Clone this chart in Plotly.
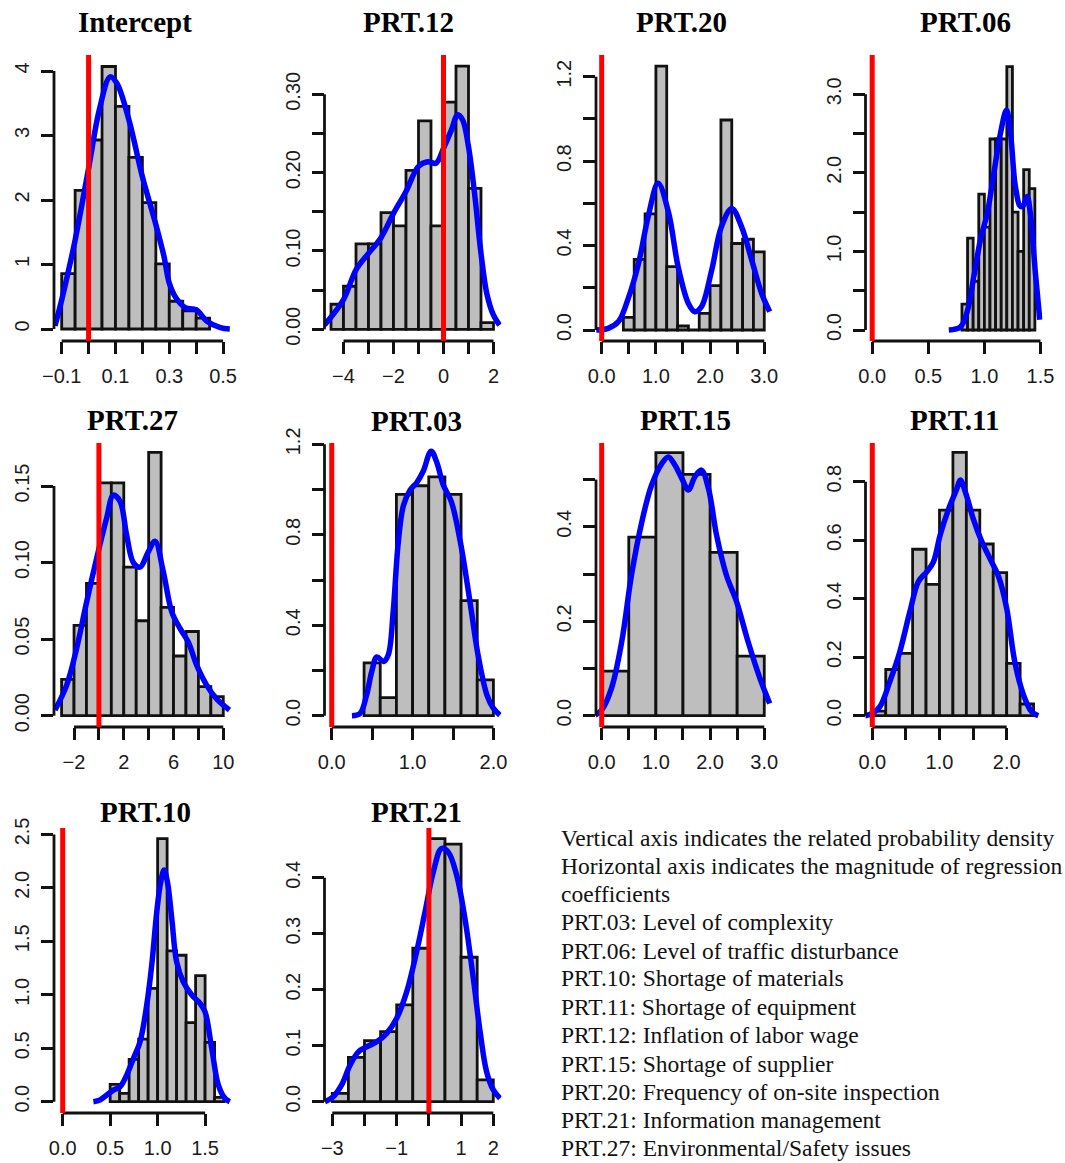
import plotly.graph_objects as go

W, H = 1065, 1163

# ---------------- data ----------------
TITLES = ["Intercept", "PRT.12", "PRT.20", "PRT.06", "PRT.27",
          "PRT.03", "PRT.15", "PRT.11", "PRT.10", "PRT.21"]

INTERCEPT_EDGES = [-0.10, -0.05, 0.00, 0.05, 0.10, 0.15, 0.20, 0.25, 0.30, 0.35, 0.40, 0.45]
INTERCEPT_DENS = [0.86, 2.15, 2.93, 4.07, 3.45, 2.66, 1.96, 1.01, 0.43, 0.28, 0.17]
INTERCEPT_KDE_X = [-0.125, -0.1, -0.05, 0.0, 0.04, 0.08, 0.105, 0.15, 0.2, 0.25, 0.28, 0.3, 0.325, 0.36, 0.4, 0.44, 0.49, 0.525]
INTERCEPT_KDE_Y = [0.05, 0.45, 1.38, 2.49, 3.4, 3.91, 3.81, 3.24, 2.36, 1.62, 1.13, 0.71, 0.48, 0.33, 0.30, 0.12, 0.02, 0.0]

PRT12_EDGES = [-4.5, -4.0, -3.5, -3.0, -2.5, -2.0, -1.5, -1.0, -0.5, 0.0, 0.5, 1.0, 1.5, 2.0]
PRT12_DENS = [0.032, 0.055, 0.109, 0.109, 0.149, 0.132, 0.203, 0.266, 0.132, 0.29, 0.336, 0.18, 0.0085]
PRT12_KDE_X = [-4.76, -4.0, -3.5, -3.0, -2.5, -2.0, -1.5, -1.0, -0.63, -0.3, 0.0, 0.31, 0.57, 0.77, 1.0, 1.24, 1.5, 1.73, 2.0, 2.24]
PRT12_KDE_Y = [0.0055, 0.038, 0.076, 0.097, 0.117, 0.148, 0.176, 0.208, 0.214, 0.212, 0.231, 0.254, 0.274, 0.267, 0.233, 0.174, 0.097, 0.046, 0.018, 0.0055]

PRT20_EDGES = [0.4, 0.6, 0.8, 1.0, 1.2, 1.4, 1.6, 1.8, 2.0, 2.2, 2.4, 2.6, 2.8, 3.0]
PRT20_DENS = [0.06, 0.335, 0.55, 1.25, 0.30, 0.019, 0.0, 0.079, 0.21, 0.995, 0.41, 0.43, 0.37]
PRT20_KDE_X = [-0.1, 0.12, 0.31, 0.49, 0.68, 0.86, 1.04, 1.23, 1.41, 1.6, 1.72, 1.84, 2.03, 2.21, 2.4, 2.58, 2.77, 2.95, 3.1]
PRT20_KDE_Y = [0.0, 0.008, 0.04, 0.15, 0.316, 0.54, 0.695, 0.56, 0.30, 0.126, 0.087, 0.11, 0.284, 0.49, 0.576, 0.49, 0.33, 0.174, 0.087]

PRT06_EDGES = [0.80, 0.85, 0.90, 0.95, 1.00, 1.05, 1.10, 1.15, 1.20, 1.25, 1.30, 1.35, 1.40, 1.45]
PRT06_DENS = [0.33, 1.17, 0.62, 1.73, 1.31, 2.43, 2.43, 2.43, 3.35, 1.5, 1.0, 2.04, 1.80]
PRT06_KDE_X = [0.683, 0.787, 0.846, 0.906, 0.965, 1.025, 1.084, 1.143, 1.197, 1.233, 1.277, 1.322, 1.35, 1.381, 1.41, 1.455, 1.494]
PRT06_KDE_Y = [0.0, 0.04, 0.23, 0.68, 1.15, 1.48, 1.99, 2.5, 2.80, 2.5, 1.82, 1.57, 1.59, 1.70, 1.48, 0.72, 0.13]

PRT27_EDGES = [-3, -2, -1, 0, 1, 2, 3, 4, 5, 6, 7, 8, 9, 10]
PRT27_DENS = [0.0237, 0.059, 0.0864, 0.152, 0.152, 0.097, 0.062, 0.172, 0.0708, 0.039, 0.055, 0.019, 0.0124]
PRT27_KDE_X = [-3.53, -2.59, -1.79, -0.98, 0.0, 0.62, 1.16, 1.7, 2.23, 2.77, 3.3, 3.97, 4.51, 5.18, 5.85, 6.52, 7.19, 7.86, 8.66, 9.46, 10.5]
PRT27_KDE_Y = [0.0037, 0.02, 0.044, 0.0745, 0.109, 0.129, 0.144, 0.14, 0.118, 0.10, 0.097, 0.107, 0.114, 0.094, 0.068, 0.057, 0.048, 0.033, 0.02, 0.011, 0.0037]

PRT03_EDGES = [0.4, 0.6, 0.8, 1.0, 1.2, 1.4, 1.6, 1.8, 2.0]
PRT03_DENS = [0.234, 0.08, 0.979, 1.017, 1.056, 0.979, 0.509, 0.158]
PRT03_KDE_X = [0.25, 0.35, 0.43, 0.495, 0.557, 0.64, 0.70, 0.76, 0.82, 0.887, 0.97, 1.05, 1.13, 1.23, 1.30, 1.38, 1.48, 1.59, 1.71, 1.81, 1.92, 2.0, 2.08]
PRT03_KDE_Y = [0.0, 0.01, 0.09, 0.195, 0.26, 0.24, 0.27, 0.46, 0.755, 0.93, 0.998, 1.03, 1.08, 1.17, 1.12, 1.02, 0.946, 0.77, 0.504, 0.268, 0.091, 0.032, 0.003]

PRT15_EDGES = [0.0, 0.5, 1.0, 1.5, 2.0, 2.5, 3.0]
PRT15_DENS = [0.0946, 0.378, 0.557, 0.511, 0.346, 0.126]
PRT15_KDE_X = [-0.12, 0.0, 0.18, 0.37, 0.55, 0.74, 0.92, 1.11, 1.23, 1.35, 1.48, 1.6, 1.72, 1.84, 1.97, 2.12, 2.3, 2.49, 2.7, 2.92, 3.1]
PRT15_KDE_Y = [0.0014, 0.012, 0.058, 0.157, 0.298, 0.41, 0.488, 0.534, 0.548, 0.531, 0.502, 0.478, 0.506, 0.52, 0.481, 0.382, 0.298, 0.241, 0.157, 0.079, 0.026]

PRT11_EDGES = [0.0, 0.2, 0.4, 0.6, 0.8, 1.0, 1.2, 1.4, 1.6, 1.8, 2.0, 2.2, 2.4]
PRT11_DENS = [0.016, 0.158, 0.213, 0.569, 0.449, 0.703, 0.90, 0.703, 0.587, 0.489, 0.179, 0.04]
PRT11_KDE_X = [-0.11, 0.0, 0.114, 0.26, 0.41, 0.56, 0.685, 0.81, 0.91, 1.01, 1.13, 1.26, 1.31, 1.40, 1.5, 1.63, 1.75, 1.88, 2.0, 2.12, 2.25, 2.37, 2.47]
PRT11_KDE_Y = [0.0, 0.008, 0.031, 0.116, 0.219, 0.356, 0.458, 0.492, 0.526, 0.618, 0.703, 0.777, 0.806, 0.754, 0.675, 0.595, 0.538, 0.475, 0.367, 0.185, 0.071, 0.014, 0.0]

PRT10_EDGES = [0.5, 0.6, 0.7, 0.8, 0.9, 1.0, 1.1, 1.2, 1.3, 1.4, 1.5, 1.6, 1.7]
PRT10_DENS = [0.162, 0.078, 0.396, 0.586, 1.06, 2.46, 1.41, 1.37, 0.74, 1.18, 0.555, 0.04]
PRT10_KDE_X = [0.323, 0.393, 0.464, 0.534, 0.604, 0.674, 0.745, 0.815, 0.885, 0.938, 0.991, 1.033, 1.068, 1.103, 1.149, 1.20, 1.27, 1.36, 1.447, 1.50, 1.57, 1.64, 1.71, 1.76]
PRT10_KDE_Y = [0.0, 0.016, 0.062, 0.109, 0.14, 0.249, 0.405, 0.561, 0.904, 1.278, 1.777, 2.057, 2.166, 2.057, 1.714, 1.309, 1.122, 0.998, 0.92, 0.84, 0.499, 0.156, 0.031, 0.0]

PRT21_EDGES = [-3.0, -2.5, -2.0, -1.5, -1.0, -0.5, 0.0, 0.5, 1.0, 1.5, 2.0]
PRT21_DENS = [0.015, 0.079, 0.109, 0.125, 0.173, 0.274, 0.47, 0.46, 0.258, 0.039]
PRT21_KDE_X = [-3.23, -2.97, -2.71, -2.45, -2.19, -1.93, -1.62, -1.31, -1.0, -0.69, -0.38, -0.12, 0.14, 0.39, 0.6, 0.86, 1.12, 1.38, 1.59, 1.79, 2.0, 2.21]
PRT21_KDE_Y = [0.0, 0.009, 0.03, 0.065, 0.089, 0.098, 0.107, 0.122, 0.149, 0.196, 0.268, 0.339, 0.411, 0.452, 0.446, 0.405, 0.327, 0.22, 0.125, 0.054, 0.021, 0.006]

REF_LINE_X = 0.0

# tick values / labels
X_TICKS = [
    [-0.1, 0.0, 0.1, 0.2, 0.3, 0.4, 0.5],
    [-4, -3, -2, -1, 0, 1, 2],
    [0.0, 0.5, 1.0, 1.5, 2.0, 2.5, 3.0],
    [0.0, 0.5, 1.0, 1.5],
    [-2, 0, 2, 4, 6, 8, 10],
    [0.0, 0.5, 1.0, 1.5, 2.0],
    [0.0, 0.5, 1.0, 1.5, 2.0, 2.5, 3.0],
    [0.0, 0.5, 1.0, 1.5, 2.0],
    [0.0, 0.5, 1.0, 1.5],
    [-3, -2, -1, 0, 1, 2],
]
X_LABELS = [
    ["\u22120.1", "", "0.1", "", "0.3", "", "0.5"],
    ["\u22124", "", "\u22122", "", "0", "", "2"],
    ["0.0", "", "1.0", "", "2.0", "", "3.0"],
    ["0.0", "0.5", "1.0", "1.5"],
    ["\u22122", "", "2", "", "6", "", "10"],
    ["0.0", "", "1.0", "", "2.0"],
    ["0.0", "", "1.0", "", "2.0", "", "3.0"],
    ["0.0", "", "1.0", "", "2.0"],
    ["0.0", "0.5", "1.0", "1.5"],
    ["\u22123", "", "\u22121", "", "1", "2"],
]
Y_TICKS = [
    [0, 1, 2, 3, 4],
    [0.0, 0.05, 0.10, 0.15, 0.20, 0.25, 0.30],
    [0.0, 0.2, 0.4, 0.6, 0.8, 1.0, 1.2],
    [0.0, 0.5, 1.0, 1.5, 2.0, 2.5, 3.0],
    [0.0, 0.05, 0.10, 0.15],
    [0.0, 0.2, 0.4, 0.6, 0.8, 1.0, 1.2],
    [0.0, 0.1, 0.2, 0.3, 0.4, 0.5],
    [0.0, 0.2, 0.4, 0.6, 0.8],
    [0.0, 0.5, 1.0, 1.5, 2.0, 2.5],
    [0.0, 0.1, 0.2, 0.3, 0.4],
]
Y_LABELS = [
    ["0", "1", "2", "3", "4"],
    ["0.00", "", "0.10", "", "0.20", "", "0.30"],
    ["0.0", "", "0.4", "", "0.8", "", "1.2"],
    ["0.0", "", "1.0", "", "2.0", "", "3.0"],
    ["0.00", "0.05", "0.10", "0.15"],
    ["0.0", "", "0.4", "", "0.8", "", "1.2"],
    ["0.0", "", "0.2", "", "0.4", ""],
    ["0.0", "0.2", "0.4", "0.6", "0.8"],
    ["0.0", "0.5", "1.0", "1.5", "2.0", "2.5"],
    ["0.0", "0.1", "0.2", "0.3", "0.4"],
]

NOTE_LINES = [
    "Vertical axis indicates the related probability density",
    "Horizontal axis indicates the magnitude of regression",
    "coefficients",
    "PRT.03: Level of complexity",
    "PRT.06: Level of traffic disturbance",
    "PRT.10: Shortage of materials",
    "PRT.11: Shortage of equipment",
    "PRT.12: Inflation of labor wage",
    "PRT.15: Shortage of supplier",
    "PRT.20: Frequency of on-site inspection",
    "PRT.21: Information management",
    "PRT.27: Environmental/Safety issues",
]

PANELS_DATA = [
    (INTERCEPT_EDGES, INTERCEPT_DENS, INTERCEPT_KDE_X, INTERCEPT_KDE_Y),
    (PRT12_EDGES, PRT12_DENS, PRT12_KDE_X, PRT12_KDE_Y),
    (PRT20_EDGES, PRT20_DENS, PRT20_KDE_X, PRT20_KDE_Y),
    (PRT06_EDGES, PRT06_DENS, PRT06_KDE_X, PRT06_KDE_Y),
    (PRT27_EDGES, PRT27_DENS, PRT27_KDE_X, PRT27_KDE_Y),
    (PRT03_EDGES, PRT03_DENS, PRT03_KDE_X, PRT03_KDE_Y),
    (PRT15_EDGES, PRT15_DENS, PRT15_KDE_X, PRT15_KDE_Y),
    (PRT11_EDGES, PRT11_DENS, PRT11_KDE_X, PRT11_KDE_Y),
    (PRT10_EDGES, PRT10_DENS, PRT10_KDE_X, PRT10_KDE_Y),
    (PRT21_EDGES, PRT21_DENS, PRT21_KDE_X, PRT21_KDE_Y),
]

# ---------------- layout (pixels / ranges) ----------------
COL_LEFT = [54, 324.5, 596, 865.5]
ROW_TB = [(55, 341), (443, 727), (828, 1113)]
PLOT_W = 177
GRID_POS = [(0, 0), (0, 1), (0, 2), (0, 3), (1, 0), (1, 1), (1, 2), (1, 3), (2, 0), (2, 1)]
X_RANGES = [
    [-0.1286, 0.5294], [-4.76, 2.32], [-0.105, 3.161], [-0.0597, 1.518],
    [-3.61, 10.62], [-0.0896, 2.10], [-0.105, 3.161], [-0.101, 2.533],
    [-0.0917, 1.773], [-3.242, 2.255],
]
Y_RANGES = [
    [-0.186, 4.248], [-0.0149, 0.3502], [-0.052, 1.303], [-0.140, 3.499],
    [-0.00738, 0.1781], [-0.050, 1.206], [-0.0239, 0.5774], [-0.0386, 0.9323],
    [-0.1057, 2.560], [-0.0202, 0.4888],
]
TITLE_POS = [(135, 22), (408.7, 22), (681.7, 22), (965.8, 22),
             (132, 420), (416.3, 421), (685.8, 420), (954.2, 420),
             (145, 812), (416.2, 812)]
NOTE_X = 559
NOTE_Y = [838, 866, 894, 922, 950.5, 978.5, 1007, 1035, 1063.5, 1091.5, 1119.5, 1148]

BAR_FILL = "#bebebe"
INK = "#111111"
BLUE = "#0000ff"
RED = "#ff0000"
TICK_FONT = dict(family="Liberation Sans, Arial, sans-serif", size=20, color="#1a1a1a")

fig = go.Figure()
shapes = []
annotations = []

for i, ((edges, dens, kx, ky), (r, c)) in enumerate(zip(PANELS_DATA, GRID_POS)):
    n = "" if i == 0 else str(i + 1)
    xa, ya = "x" + n, "y" + n
    mids = [(a + b) / 2 for a, b in zip(edges[:-1], edges[1:])]
    widths = [b - a for a, b in zip(edges[:-1], edges[1:])]
    fig.add_trace(go.Bar(x=mids, y=dens, width=widths, xaxis=xa, yaxis=ya,
                         marker=dict(color=BAR_FILL, line=dict(color=INK, width=2.8)),
                         showlegend=False, hoverinfo="skip"))
    fig.add_trace(go.Scatter(x=kx, y=ky, mode="lines", xaxis=xa, yaxis=ya,
                             line=dict(color=BLUE, width=5.5, shape="spline", smoothing=1.0),
                             showlegend=False, hoverinfo="skip"))

    left = COL_LEFT[c]
    top, bottom = ROW_TB[r]
    xdom = [left / W, (left + PLOT_W) / W]
    ydom = [1 - bottom / H, 1 - top / H]
    xkey = "xaxis" + n
    ykey = "yaxis" + n
    fig.layout[xkey] = dict(domain=xdom, range=X_RANGES[i], anchor=ya, automargin=False,
                            showgrid=False, zeroline=False, showline=False,
                            tickmode="array", tickvals=X_TICKS[i], ticktext=X_LABELS[i],
                            ticks="outside", ticklen=12, tickwidth=2.8, tickcolor=INK,
                            tickfont=TICK_FONT, ticklabelstandoff=5)
    fig.layout[ykey] = dict(domain=ydom, range=Y_RANGES[i], anchor=xa, automargin=False,
                            showgrid=False, zeroline=False, showline=False,
                            tickmode="array", tickvals=Y_TICKS[i], ticktext=Y_LABELS[i],
                            ticks="outside", ticklen=12, tickwidth=2.8, tickcolor=INK,
                            tickfont=TICK_FONT, tickangle=-90, ticklabelstandoff=4)
    xref_dom = xa + " domain"
    yref_dom = ya + " domain"
    # R-style axis lines spanning first..last tick
    shapes.append(dict(type="line", xref=xa, yref=yref_dom,
                       x0=X_TICKS[i][0], x1=X_TICKS[i][-1], y0=0, y1=0,
                       line=dict(color=INK, width=2.8), layer="above"))
    shapes.append(dict(type="line", xref=xref_dom, yref=ya,
                       x0=0, x1=0, y0=Y_TICKS[i][0], y1=Y_TICKS[i][-1],
                       line=dict(color=INK, width=2.8), layer="above"))
    # red reference line at zero
    shapes.append(dict(type="line", xref=xa, yref=yref_dom,
                       x0=REF_LINE_X, x1=REF_LINE_X, y0=0, y1=1,
                       line=dict(color=RED, width=5), layer="above"))
    tx, ty = TITLE_POS[i]
    annotations.append(dict(text=TITLES[i], xref="paper", yref="paper",
                            x=tx / W, y=1 - ty / H, xanchor="center", yanchor="middle",
                            showarrow=False,
                            font=dict(family="Liberation Serif, Times New Roman, serif",
                                      size=29, color="#000000", weight=700)))

for line, ly in zip(NOTE_LINES, NOTE_Y):
    annotations.append(dict(text=line, xref="paper", yref="paper",
                            x=NOTE_X / W, y=1 - ly / H, xanchor="left", yanchor="middle",
                            showarrow=False,
                            font=dict(family="Liberation Serif, Times New Roman, serif",
                                      size=23.5, color="#111111")))

fig.update_layout(width=W, height=H, margin=dict(l=0, r=0, t=0, b=0, autoexpand=False),
                  paper_bgcolor="white", plot_bgcolor="white",
                  shapes=shapes, annotations=annotations, showlegend=False)

fig.write_html("out.html")
